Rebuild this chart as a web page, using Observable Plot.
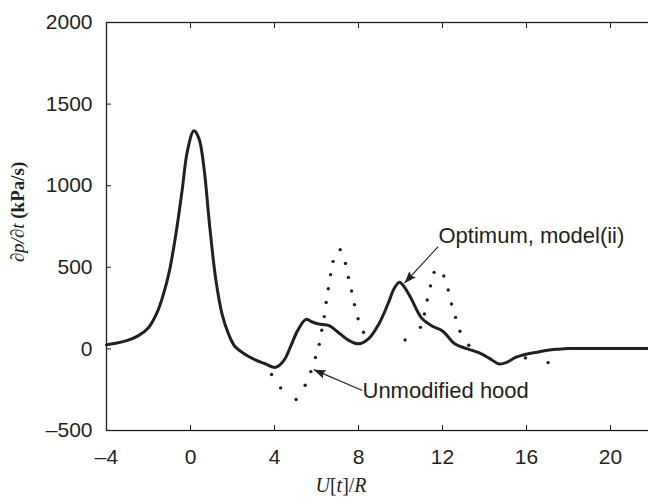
<!DOCTYPE html>
<html><head><meta charset="utf-8">
<script src="https://cdn.jsdelivr.net/npm/d3@7"></script>
<script src="https://cdn.jsdelivr.net/npm/@observablehq/plot@0.6"></script>
<style>
html,body{margin:0;padding:0;background:#fff;overflow:hidden}
</style></head><body><div id="chart"></div>
<script>
// Optimum, model(ii) — solid curve
const optX = [-4, -3.5, -3, -2.5, -2, -1.6, -1.3, -1, -0.7, -0.4, -0.15, 0.16, 0.4, 0.65, 0.9, 1.2, 1.5, 1.8, 2.1, 2.5, 3, 3.5, 4.05, 4.45, 4.8, 5.1, 5.5, 5.8, 6.1, 6.6, 7.0, 7.5, 8.0, 8.5, 9.0, 9.4, 9.7, 9.95, 10.2, 10.5, 11.0, 11.5, 12.0, 12.6, 13.2, 13.7, 14.2, 14.7, 15.1, 15.5, 16.0, 16.5, 17.0, 17.5, 18, 19, 20, 21, 22];
const optY = [26, 36, 52, 80, 130, 220, 330, 480, 700, 970, 1210, 1336, 1290, 1100, 770, 430, 215, 95, 18, -25, -62, -88, -113, -70, 25, 112, 181, 165, 153, 143, 105, 55, 31, 65, 160, 275, 370, 408, 375, 310, 190, 140, 110, 30, 0, -22, -55, -92, -80, -51, -32, -20, -8, -2, 2, 3, 3, 3, 3];
// Unmodified hood — visible dots of the dotted curve
const hoodX = [3.86, 4.29, 5.03, 5.46, 5.73, 5.95, 6.13, 6.25, 6.37, 6.46, 6.56, 6.67, 6.79, 7.13, 7.38, 7.52, 7.67, 7.81, 7.98, 8.24, 10.22, 10.95, 11.14, 11.27, 11.43, 11.6, 12.06, 12.27, 12.43, 12.62, 12.83, 13.25, 15.95, 17.03];
const hoodY = [-157, -239, -310, -223, -139, -53, 28, 114, 198, 285, 369, 455, 536, 608, 524, 438, 355, 271, 185, 102, 55, 132, 214, 300, 386, 469, 447, 361, 275, 193, 108, 22, -55, -84];
const xTicks = [-4, 0, 4, 8, 12, 16, 20];
const yTicks = [-500, 0, 500, 1000, 1500, 2000];
const labelText = ["Optimum, model(ii)", "Unmodified hood"];
const labelX = [11.81, 8.19];
const labelY = [693, -255];
const arrowFromX = [11.79, 8.18];
const arrowFromY = [626, -255];
const arrowToX = [10.19, 5.87];
const arrowToY = [403, -127];

const ink = "#231f20";
const optimum = optX.map((x, i) => ({x, y: optY[i]}));
const hood = hoodX.map((x, i) => ({x, y: hoodY[i]}));
const labels = labelText.map((t, i) => ({t, x: labelX[i], y: labelY[i]}));
const arrows = arrowFromX.map((x, i) => ({x1: x, y1: arrowFromY[i], x2: arrowToX[i], y2: arrowToY[i]}));
const fmt = d => d < 0 ? "\u2013" + Math.abs(d) : String(d);

function filledArrow(color, context) {
  const m = d3.create("svg:marker")
    .attr("viewBox", "-12 -5 13 10")
    .attr("markerWidth", 13).attr("markerHeight", 10)
    .attr("refX", 0).attr("refY", 0)
    .attr("orient", "auto")
    .attr("markerUnits", "userSpaceOnUse")
    .attr("fill", color).attr("stroke", "none");
  m.append("path").attr("d", "M-12,-4.5L0,0L-12,4.5L-10,0Z");
  return m.node();
}

const plot = Plot.plot({
  width: 648, height: 498,
  marginLeft: 106, marginRight: -4, marginTop: 22, marginBottom: 68,
  style: {fontFamily: "'Liberation Sans', Arial, sans-serif", fontSize: "21px", color: ink, background: "#fff"},
  x: {domain: [-4, 22]},
  y: {domain: [-500, 2000]},
  marks: [
    Plot.dot(hood, {x: "x", y: "y", r: 1.7, fill: ink, stroke: "none"}),
    Plot.line(optimum, {x: "x", y: "y", stroke: ink, strokeWidth: 3, curve: "catmull-rom"}),
    Plot.frame({stroke: ink, strokeWidth: 1.3}),
    Plot.axisX({anchor: "bottom", ticks: xTicks, tickSize: -5, tickPadding: 24, tickFormat: fmt, label: null, fontSize: 21, stroke: ink, fill: ink}),
    Plot.axisX({anchor: "top", ticks: xTicks, tickSize: -5, tickFormat: () => "", label: null, stroke: ink}),
    Plot.axisY({anchor: "left", ticks: yTicks, tickSize: -5, tickPadding: 19, tickFormat: fmt, label: null, fontSize: 21, stroke: ink, fill: ink}),
    Plot.axisY({anchor: "right", ticks: yTicks, tickSize: -5, tickFormat: () => "", label: null, stroke: ink}),
    Plot.link(arrows, {x1: "x1", y1: "y1", x2: "x2", y2: "y2", stroke: ink, strokeWidth: 1.1, markerEnd: filledArrow}),
    Plot.text(labels, {x: "x", y: "y", text: "t", textAnchor: "start", fontSize: 22, fill: ink})
  ]
});

const svg = d3.select(plot);
const serif = "'Liberation Serif', 'Times New Roman', serif";
const xl = svg.append("text")
  .attr("x", 341).attr("y", 492)
  .attr("text-anchor", "middle")
  .attr("font-family", serif).attr("font-size", 20).attr("fill", ink);
xl.append("tspan").attr("font-style", "italic").text("U");
xl.append("tspan").text("[");
xl.append("tspan").attr("font-style", "italic").text("t");
xl.append("tspan").text("]/");
xl.append("tspan").attr("font-style", "italic").text("R");

const yl = svg.append("text")
  .attr("transform", "translate(24,212) rotate(-90)")
  .attr("text-anchor", "middle")
  .attr("font-family", serif).attr("font-size", 19).attr("fill", ink);
yl.append("tspan").attr("font-style", "italic").text("\u2202p/\u2202t ");
yl.append("tspan").attr("font-weight", "bold").text("(kPa/s)");

document.getElementById("chart").appendChild(plot);
</script>
</body></html>
